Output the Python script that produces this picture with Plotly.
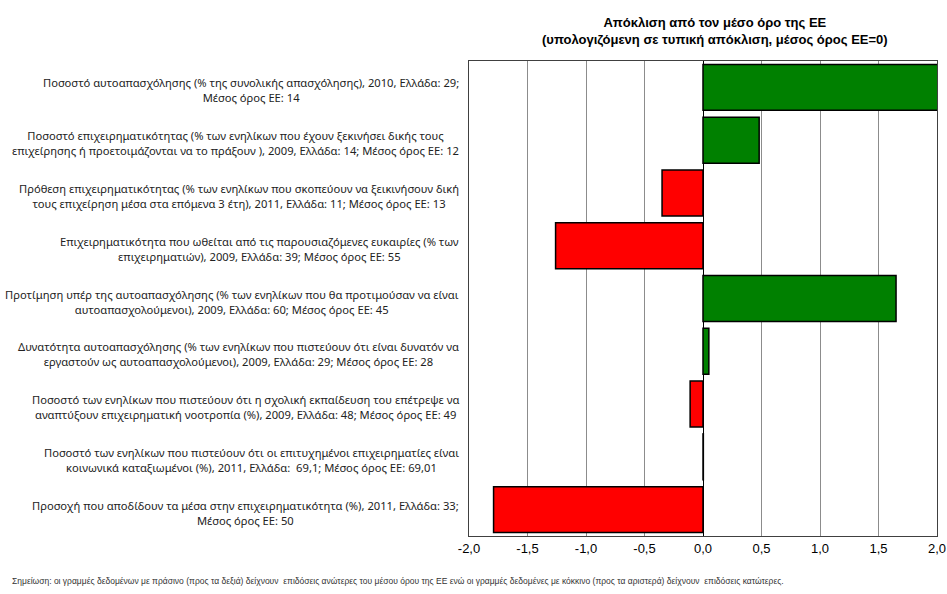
import plotly.graph_objects as go

labels = [
    "Ποσοστό αυτοαπασχόλησης (% της συνολικής απασχόλησης), 2010, Ελλάδα: 29;<br>Μέσος όρος ΕΕ: 14",
    "Ποσοστό επιχειρηματικότητας (% των ενηλίκων που έχουν ξεκινήσει δικής τους<br>επιχείρησης ή προετοιμάζονται να το πράξουν ), 2009, Ελλάδα: 14; Μέσος όρος ΕΕ: 12",
    "Πρόθεση επιχειρηματικότητας (% των ενηλίκων που σκοπεύουν να ξεικινήσουν δική<br>τους επιχείρηση μέσα στα επόμενα 3 έτη), 2011, Ελλάδα: 11; Μέσος όρος ΕΕ: 13",
    "Επιχειρηματικότητα που ωθείται από τις παρουσιαζόμενες ευκαιρίες (% των<br>επιχειρηματιών), 2009, Ελλάδα: 39; Μέσος όρος ΕΕ: 55",
    "Προτίμηση υπέρ της αυτοαπασχόλησης (% των ενηλίκων που θα προτιμούσαν να είναι<br>αυτοαπασχολούμενοι), 2009, Ελλάδα: 60; Μέσος όρος ΕΕ: 45",
    "Δυνατότητα αυτοαπασχόλησης (% των ενηλίκων που πιστεύουν ότι είναι δυνατόν να<br>εργαστούν ως αυτοαπασχολούμενοι), 2009, Ελλάδα: 29; Μέσος όρος ΕΕ: 28",
    "Ποσοστό των ενηλίκων που πιστεύουν ότι η σχολική εκπαίδευση του επέτρεψε να<br>αναπτύξουν επιχειρηματική νοοτροπία (%), 2009, Ελλάδα: 48; Μέσος όρος ΕΕ: 49",
    "Ποσοστό των ενηλίκων που πιστεύουν ότι οι επιτυχημένοι επιχειρηματίες είναι<br>κοινωνικά καταξιωμένοι (%), 2011, Ελλάδα:  69,1; Μέσος όρος ΕΕ: 69,01",
    "Προσοχή που αποδίδουν τα μέσα στην επιχειρηματικότητα (%), 2011, Ελλάδα: 33;<br>Μέσος όρος ΕΕ: 50",
]
values = [2.1, 0.48, -0.35, -1.26, 1.65, 0.05, -0.11, 0.003, -1.79]
x_ticks = [-2.0, -1.5, -1.0, -0.5, 0.0, 0.5, 1.0, 1.5, 2.0]
x_tick_text = [f"{t:.1f}".replace(".", ",") for t in x_ticks]

title_text = "Απόκλιση από τον μέσο όρο της ΕΕ<br>(υπολογιζόμενη σε τυπική απόκλιση, μέσος όρος ΕΕ=0)"
note_text = ("Σημείωση: οι γραμμές δεδομένων με πράσινο (προς τα δεξιά) δείχνουν  επιδόσεις ανώτερες "
             "του μέσου όρου της ΕΕ ενώ οι γραμμές δεδομένες με κόκκινο (προς τα αριστερά) δείχνουν  επιδόσεις κατώτερες.")

GREEN = "#008000"
RED = "#FF0000"
colors = [GREEN if v >= 0 else RED for v in values]
keys = [f"c{i}" for i in range(len(labels))]

fig = go.Figure()
fig.add_trace(go.Bar(
    x=values, y=keys, orientation="h",
    marker=dict(color=colors, line=dict(color="#000000", width=1.5)),
    hoverinfo="x",
))

annotations = []
for k, lab in zip(keys, labels):
    annotations.append(dict(
        x=0, xref="paper", y=k, yref="y", xanchor="right", yanchor="middle",
        xshift=-8, yshift=-3, text=lab, showarrow=False, align="center",
        font=dict(family="Noto Sans, Open Sans, sans-serif", size=11.2, color="#222222"),
    ))
annotations.append(dict(
    x=0.526, xref="paper", y=1, yref="paper", xanchor="center", yanchor="bottom",
    yshift=12, text="<b>" + title_text.replace("<br>", "</b><br><b>") + "</b>", showarrow=False,
    align="center",
    font=dict(family="Liberation Sans Narrow, Arial Narrow, Liberation Sans, sans-serif", size=13, color="#000000"),
))
annotations.append(dict(
    x=(10 - 469) / 468, xref="paper", y=0, yref="paper", xanchor="left", yanchor="top",
    yshift=-38, text=note_text, showarrow=False, align="left",
    font=dict(family="Liberation Sans Narrow, Arial Narrow, Liberation Sans, sans-serif", size=8.5, color="#333333"),
))

fig.update_layout(
    width=947, height=594,
    margin=dict(l=469, r=10, t=61, b=58, autoexpand=False),
    paper_bgcolor="white", plot_bgcolor="white",
    showlegend=False, bargap=0.13,
    annotations=annotations,
    font=dict(family="Liberation Sans, Arial, sans-serif", color="#000000"),
)

fig.update_xaxes(
    range=[-2, 2], tickvals=x_ticks, ticktext=x_tick_text, automargin=False,
    showgrid=True, gridcolor="#8c8c8c", gridwidth=1,
    zeroline=True, zerolinecolor="#000000", zerolinewidth=1,
    showline=True, linecolor="#404040", linewidth=1, mirror=True,
    ticks="", tickfont=dict(size=13, color="#000000"),
)
fig.update_yaxes(
    categoryorder="array", categoryarray=keys, autorange="reversed", automargin=False,
    showticklabels=False, showgrid=False, zeroline=False,
    showline=True, linecolor="#404040", linewidth=1, mirror=True, ticks="",
)

fig.write_html("out.html")
